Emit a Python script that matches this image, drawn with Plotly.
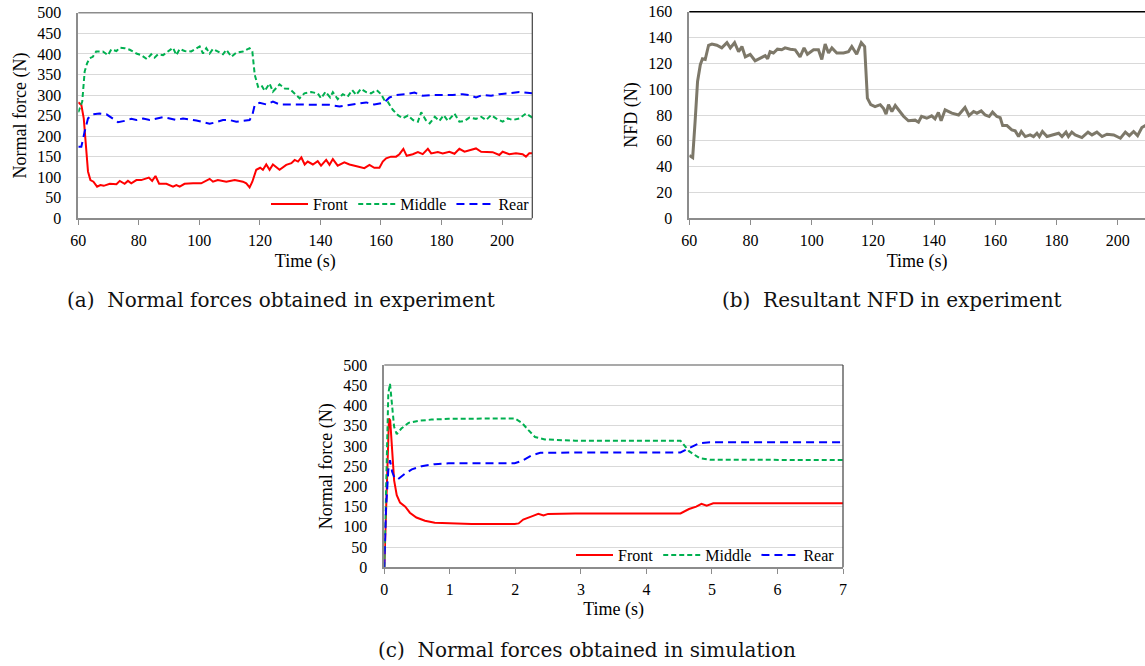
import plotly.graph_objects as go

# ---------------- data ----------------
# (a) experiment normal forces
a_front_t = [60, 61, 61.8, 62.4, 63.2, 64, 65, 66.2, 67.3, 68.4, 70.4, 72.6, 73.7, 75.3, 76.4, 77.5, 79.2, 80.8,
             83.3, 84.4, 85.5, 86.7, 89.1, 91.3, 92.4, 93.5, 95.1, 97.9, 100.6, 103.4, 104.5, 106.1, 108.9, 111.7,
             114.4, 115.5, 116.6, 117.5, 118.8, 120.1, 121, 122.1, 123.2, 124.3, 126.5, 128.7, 130.4, 131.5, 132.6,
             133.7, 134.8, 135.8, 137.5, 139.1, 140.2, 141.9, 143, 144.1, 145.7, 147.9, 149.6, 152.3, 154.5, 156.2,
             157.8, 159.5, 160.6, 161.7, 163.3, 165, 166.1, 167.4, 168.5, 170.5, 172.2, 173.8, 175.5, 176.6, 178.8,
             180.4, 182.6, 184.3, 185.9, 187.6, 189.8, 191.4, 193.1, 194.7, 196.9, 199.1, 200.2, 202.4, 204.6, 206.8,
             207.9, 209, 210]
a_front_v = [282, 276, 243, 178, 114, 93, 89, 77, 81, 79, 84, 83, 91, 84, 91, 85, 93, 93,
             99, 91, 103, 84, 84, 77, 81, 77, 84, 85, 85, 96, 89, 93, 89, 93,
             89, 85, 75, 89, 118, 123, 118, 131, 118, 131, 118, 130, 134, 142, 138,
             148, 131, 138, 131, 139, 128, 142, 130, 144, 128, 136, 131, 126, 122, 130,
             123, 123, 138, 146, 150, 150, 156, 169, 152, 156, 161, 156, 169, 158, 161,
             158, 162, 157, 169, 162, 166, 170, 162, 162, 161, 154, 162, 156, 158, 156,
             150, 158, 158]

a_middle_t = [60, 61.3, 62.1, 62.9, 63.7, 64.8, 65.9, 68.1, 69.8, 70.9, 72.6, 73.7, 75.3, 77, 79.2, 80.8, 82.7,
              84.1, 85.2, 86.3, 88, 89.6, 91.3, 92.4, 93.5, 95.1, 97.3, 100.1, 101.2, 102.3, 103.4, 104.5, 106.1,
              107.8, 108.9, 110.6, 112.2, 114.4, 116.6, 117.5, 118.3, 119.4, 120.5, 121.6, 123.2, 124.3, 126.5,
              128.2, 129.8, 131.5, 133.1, 134.7, 136.9, 139.1, 140.2, 141.7, 143.2, 144.1, 145.7, 147.4, 149,
              150.5, 151.8, 153.4, 155.1, 156.7, 158.6, 160, 161.1, 162.2, 163.9, 165.6, 167.2, 168.9, 170.6,
              172.2, 173.3, 174.8, 176.1, 177.8, 179.3, 180.7, 182.1, 184.3, 185.9, 187.6, 189.2, 191.4, 193.1,
              194.7, 196.4, 198, 200.2, 201.9, 203.5, 205.7, 207.9, 210]
a_middle_v = [258, 284, 357, 377, 389, 393, 406, 406, 397, 411, 407, 415, 414, 410, 401, 397, 387,
              399, 391, 399, 397, 406, 415, 397, 412, 407, 406, 418, 401, 414, 401, 412, 406,
              399, 410, 393, 403, 406, 414, 406, 349, 320, 324, 310, 328, 308, 326,
              316, 315, 302, 292, 304, 307, 304, 292, 308, 294, 307, 290, 302, 296,
              312, 300, 315, 307, 304, 312, 302, 288, 284, 264, 251, 243, 250, 239,
              235, 258, 239, 231, 247, 237, 251, 237, 255, 235, 237, 245, 242, 247,
              239, 251, 243, 235, 243, 239, 243, 255, 245]

a_rear_t = [60, 61, 62.1, 63.2, 64.8, 67, 69.3, 71.5, 73.1, 75.3, 77.5, 79.2, 81.4, 83.6, 85.8, 88, 90.2, 92.4,
            94.6, 96.8, 99, 101.2, 103.4, 105.6, 107.8, 110, 112.2, 114.4, 116.6, 117.5, 118.3, 119.9, 122.1,
            124.3, 126.5, 129.8, 133.1, 136.4, 139.7, 143, 146.3, 149.6, 152.9, 155.1, 157.8, 160, 161.4, 162.8,
            165, 168.3, 171.1, 173.8, 177.1, 180.4, 183.7, 187, 189.2, 191.4, 193.6, 196.4, 199.1, 202.4, 205.7,
            210]
a_rear_v = [174, 174, 211, 243, 253, 255, 253, 243, 234, 237, 242, 239, 243, 239, 243, 246, 243, 239,
            243, 241, 238, 234, 230, 234, 239, 239, 235, 237, 239, 251, 276, 281, 277,
            284, 277, 277, 277, 277, 277, 276, 272, 276, 280, 282, 277, 280, 284, 294,
            300, 302, 306, 298, 300, 300, 300, 302, 300, 294, 300, 298, 302, 304, 307,
            304]

# (b) resultant NFD
b_t = [60, 61.1, 61.9, 62.7, 63.6, 64.3, 65.2, 66.3, 67.4, 69, 70.6, 72.3, 73.4, 74.8, 76.1, 77.2, 78.3, 79.9,
       81.5, 83.2, 84.8, 85.6, 86.4, 87.5, 88.8, 90.2, 91.3, 93, 94.6, 96.2, 97.5, 98.6, 100.6, 102.2, 103.3,
       104.4, 105.5, 106.6, 108.2, 110.4, 112, 113.1, 114.7, 116.2, 117.3, 118.2, 119.3, 120.7, 122.4, 123.5,
       124.3, 125.1, 126.2, 127.3, 128.7, 130, 131.6, 133.8, 134.9, 135.9, 137.6, 139.2, 140.3, 141.4, 142.3,
       143.6, 145.8, 148, 150.1, 151.4, 152.9, 154, 155.4, 156.7, 158, 159.1, 160.5, 161.6, 162.4, 163.8,
       165.4, 166.5, 167.6, 168.5, 169.8, 171.4, 172.5, 173.6, 174.4, 175.4, 176.9, 179, 180.7, 181.8, 183.1,
       183.9, 185, 186.1, 188.3, 190.3, 191.6, 193.2, 194.9, 196.5, 198.7, 200.9, 202.5, 203.8, 205.2, 206.5,
       207.9, 209, 210]
b_v = [48.6, 47, 75, 106, 119, 123.5, 123, 134, 135, 134, 132, 136, 132, 136, 129, 133, 125, 127,
       122, 124, 126, 123.5, 129, 128, 131, 130.5, 132, 131, 130.5, 125, 132, 127, 130.5, 130.5, 123,
       135, 128, 132, 128, 128, 129, 133, 127, 136, 133, 93, 88, 86.5, 88, 85,
       80.6, 88, 82.7, 87.3, 83, 79, 75.5, 76, 74.4, 79, 77.5, 79.3, 77, 82, 75.5,
       84, 81.4, 80, 85.8, 79.6, 82.7, 81.4, 83.2, 80, 78.8, 82.2, 78.8, 78, 71.8, 71.8,
       68.5, 67.7, 63.3, 67.2, 63.3, 64.6, 63.3, 65.9, 63.3, 67.2, 63.3, 64.6, 65.9, 63.3, 66.7,
       63.3, 66.7, 64.6, 62.5, 66.7, 64.6, 66.7, 63.3, 65.1, 64.6, 62, 66.7, 64, 67.2, 64,
       70.3, 71.8, 71]

# (c) simulation normal forces
c_front_t = [0, 0.036, 0.071, 0.09, 0.12, 0.15, 0.19, 0.24, 0.32, 0.39, 0.49, 0.62, 0.77, 0.98, 1.33, 1.99,
             2.05, 2.12, 2.22, 2.27, 2.35, 2.43, 2.5, 2.7, 2.91, 4.52, 4.65, 4.76, 4.84, 4.92, 5.02, 5.44, 7]
c_front_v = [0, 183, 368, 363, 273, 215, 178, 160, 150, 135, 123, 115, 110, 108.5, 107, 107,
             108.5, 118, 123, 127, 132, 128, 132, 133, 133, 133, 144, 150, 157, 152, 158, 158, 158]
c_middle_t = [0, 0.036, 0.061, 0.087, 0.11, 0.15, 0.19, 0.26, 0.37, 0.52, 0.72, 0.98, 1.99, 2.1, 2.2, 2.3,
              2.45, 2.66, 2.91, 4.52, 4.65, 4.81, 4.97, 7]
c_middle_v = [0, 265, 429, 454, 413, 347, 329, 343, 357, 362, 365, 367, 368, 357, 339, 322,
              316, 314, 313, 313, 287, 270, 266, 265]
c_rear_t = [0, 0.025, 0.061, 0.087, 0.12, 0.16, 0.21, 0.32, 0.42, 0.57, 0.77, 0.98, 1.99, 2.1, 2.25, 2.38,
            2.55, 2.91, 4.52, 4.65, 4.81, 4.97, 7]
c_rear_v = [0, 141, 240, 265, 236, 220, 218, 232, 242, 250, 255, 257, 257, 263, 277, 283,
            283, 284, 284, 295, 307, 309, 309]

series_names = ["Front", "Middle", "Rear"]
a_ticks = [60, 80, 100, 120, 140, 160, 180, 200]
c_ticks = [0, 1, 2, 3, 4, 5, 6, 7]

for t, v in [(a_front_t, a_front_v), (a_middle_t, a_middle_v), (a_rear_t, a_rear_v), (b_t, b_v),
             (c_front_t, c_front_v), (c_middle_t, c_middle_v), (c_rear_t, c_rear_v)]:
    assert len(t) == len(v), (len(t), len(v))

# ---------------- styling ----------------
W, H = 1145, 666
SERIF = "Liberation Serif"
CAP = "DejaVu Serif"
RED, GREEN, BLUE, NFD = "#ff0000", "#00b050", "#0000ff", "#7d7869"
styles = {
    "Front": dict(color=RED, width=2, dash="solid"),
    "Middle": dict(color=GREEN, width=2, dash="5px,3px"),
    "Rear": dict(color=BLUE, width=2, dash="8px,5px"),
}

def px(x):
    return x / W

def py(y):
    return 1 - y / H

fig = go.Figure()

for name, t, v in zip(series_names, [a_front_t, a_middle_t, a_rear_t], [a_front_v, a_middle_v, a_rear_v]):
    fig.add_trace(go.Scatter(x=t, y=v, mode="lines", name=name, line=styles[name],
                             xaxis="x", yaxis="y", legend="legend"))

fig.add_trace(go.Scatter(x=b_t, y=b_v, mode="lines", name="NFD", line=dict(color=NFD, width=3),
                         xaxis="x2", yaxis="y2", showlegend=False))

for name, t, v in zip(series_names, [c_front_t, c_middle_t, c_rear_t], [c_front_v, c_middle_v, c_rear_v]):
    fig.add_trace(go.Scatter(x=t, y=v, mode="lines", name=name, line=styles[name],
                             xaxis="x3", yaxis="y3", legend="legend2"))

tickfont = dict(family=SERIF, size=16, color="black")
titlefont = dict(family=SERIF, size=18, color="black")

def xax(domain, anchor, rng, ticks, standoff):
    return dict(domain=domain, anchor=anchor, range=rng, tickvals=ticks, showline=True,
                linecolor="#8c8c8c", linewidth=1.5, showgrid=False, zeroline=False,
                ticks="outside", ticklen=5, tickcolor="#8c8c8c", tickwidth=1,
                tickfont=tickfont, automargin=False, ticklabelstandoff=2,
                title=dict(text="Time (s)", font=titlefont, standoff=standoff))

def yax(domain, anchor, rng, dtick, title, standoff):
    return dict(domain=domain, anchor=anchor, range=rng, dtick=dtick, showline=True,
                linecolor="#8c8c8c", linewidth=1.5, showgrid=True, gridcolor="#d9d9d9", gridwidth=1,
                zeroline=False, ticks="", tickfont=tickfont, ticklabelstandoff=12, automargin=False,
                title=dict(text=title, font=titlefont, standoff=standoff))

b_xmax = 60 + (W - 689.3) / 3.06

legend_common = dict(orientation="h", xanchor="right", yanchor="middle",
                     bgcolor="rgba(255,255,255,0)", borderwidth=0,
                     font=dict(family=SERIF, size=16, color="black"),
                     itemwidth=37, tracegroupgap=0)

fig.update_layout(
    width=W, height=H, margin=dict(l=0, r=0, t=0, b=0),
    paper_bgcolor="white", plot_bgcolor="white",
    xaxis=xax([px(78.3), px(532.3)], "y", [60, 210], a_ticks, 6),
    yaxis=yax([py(218.3), py(12.8)], "x", [0, 500], 50, "Normal force (N)", 6),
    xaxis2=xax([px(689.3), 1.0], "y2", [60, b_xmax], a_ticks, 6),
    yaxis2=yax([py(218.3), py(11.7)], "x2", [0, 160], 20, "NFD (N)", 6),
    xaxis3=xax([px(384.3), px(843)], "y3", [0, 7], c_ticks, 5),
    yaxis3=yax([py(567.3), py(365)], "x3", [0, 500], 50, "Normal force (N)", 6),
    legend=dict(legend_common, x=px(535), y=py(204)),
    legend2=dict(legend_common, x=px(840), y=py(555)),
    showlegend=True,
)

# top / right frame lines
for xr, yr in [("x", "y"), ("x3", "y3")]:
    fig.add_shape(type="line", xref=f"{xr} domain", yref=f"{yr} domain", x0=0, x1=1, y0=1, y1=1,
                  line=dict(color="#8c8c8c", width=1.5))
    fig.add_shape(type="line", xref=f"{xr} domain", yref=f"{yr} domain", x0=1, x1=1, y0=0, y1=1,
                  line=dict(color="#404040", width=1.2))
fig.add_shape(type="line", xref="x2 domain", yref="y2 domain", x0=0, x1=1, y0=1, y1=1,
              line=dict(color="black", width=1.5))

captions = [
    ("(a)  Normal forces obtained in experiment", 281, 300),
    ("(b)  Resultant NFD in experiment", 892, 300),
    ("(c)  Normal forces obtained in simulation", 587, 650),
]
for text, cx, cy in captions:
    fig.add_annotation(text=text, x=px(cx), y=py(cy), xref="paper", yref="paper", showarrow=False,
                       xanchor="center", yanchor="middle", font=dict(family=CAP, size=20, color="#111111"))

fig.write_html("out.html")
